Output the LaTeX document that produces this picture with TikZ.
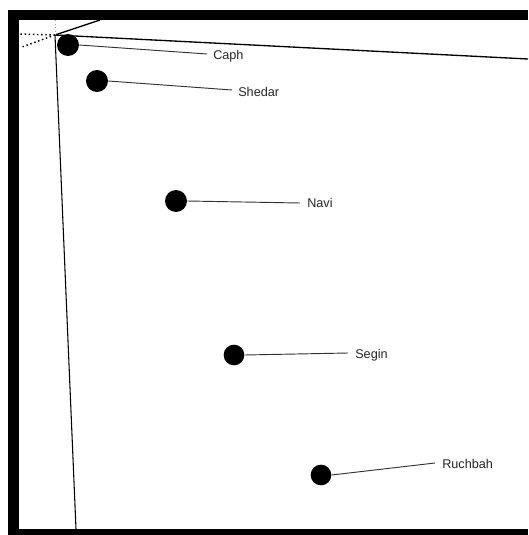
\documentclass[tikz,border=0pt]{standalone}
\usepackage{fontspec}
\setmainfont{Liberation Sans}
\begin{document}
\begin{tikzpicture}[x=0.75pt,y=-0.75pt,
  star/.style={circle,fill=black,inner sep=0pt,minimum size=16.5pt},
  starname/.style={anchor=west,inner sep=0pt,font=\fontsize{9.5}{11}\selectfont,text=black!85},
  leader/.style={draw=black!80,line width=0.7pt},
  guide/.style={draw=black,line width=1pt},
  hidden/.style={draw=black,line width=1.1pt,dotted}]
  \useasboundingbox (0,0) rectangle (528,535);
  % frame
  \fill[white] (0,0) rectangle (528,535);
  \fill[black] (8,10) rectangle (528,535);
  \fill[white] (19,20) rectangle (528,529);

  % viewpoint and guide lines
  \coordinate (v) at (55,35);
  \coordinate (east) at (528,59);
  \coordinate (north) at (100,20);
  \coordinate (south) at (76,529);
  \coordinate (west) at (19,34);
  \coordinate (southwest) at (22,47);
  \coordinate (up) at (55,20);
  \draw[guide] (v) -- (east);
  \draw[guide] (v) -- (north);
  \draw[guide,line width=0.8pt] (v) -- (south);
  \draw[hidden] (v) -- (west);
  \draw[hidden] (v) -- (southwest);
  \draw[draw=black!40,line width=0.6pt,dotted] (v) -- (up);

  % stars
  \node[star] (caph) at (68,45) {};
  \node[star] (shedar) at (97,81) {};
  \node[star] (navi) at (176,201) {};
  \node[star,minimum size=15.5pt] (segin) at (234,355) {};
  \node[star,minimum size=15.5pt] (ruchbah) at (321,475) {};

  % names
  \node[starname] (lcaph) at (213,56) {Caph};
  \node[starname] (lshedar) at (238,92) {Shedar};
  \node[starname] (lnavi) at (307,203) {Navi};
  \node[starname] (lsegin) at (355,355) {Segin};
  \node[starname] (lruchbah) at (442,464) {Ruchbah};

  % leaders from each star towards its name
  \coordinate (ecaph) at (207,54);
  \coordinate (eshedar) at (232,90);
  \coordinate (enavi) at (300,203);
  \coordinate (esegin) at (348,353);
  \coordinate (eruchbah) at (435,463);
  \draw[leader] (caph.east) -- (ecaph);
  \draw[leader] (shedar.east) -- (eshedar);
  \draw[leader] (navi.east) -- (enavi);
  \draw[leader] (segin.east) -- (esegin);
  \draw[leader] (ruchbah.east) -- (eruchbah);
\end{tikzpicture}
\end{document}
